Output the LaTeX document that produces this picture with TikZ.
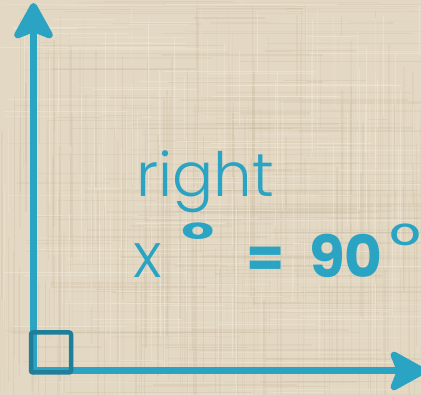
\documentclass[tikz,border=0pt]{standalone}
\usepackage{fontspec}
\setmainfont{Poppins}
\newfontfamily\lightfont{Poppins Light}
\newfontfamily\boldfont{Poppins Bold}
\usetikzlibrary{arrows.meta}
\definecolor{bgbeige}{HTML}{E3D8C3}
\definecolor{threaddark}{HTML}{C9BBA2}
\definecolor{threadlight}{HTML}{F1EADB}
\definecolor{axisblue}{HTML}{2BA4C4}
\definecolor{squareblue}{HTML}{1F7F9A}
\tikzset{
  axisline/.style={draw=axisblue, line width=7pt, line cap=round,
    -{Stealth[length=42pt 0 0, width=46pt 0 0, inset=9pt, round]}},
  anglebox/.style={draw=squareblue, line width=4.5pt, rounded corners=2pt},
  labeltext/.style={text=axisblue, inner sep=0pt, anchor=base west},
}
\begin{document}
\begin{tikzpicture}[x=1pt,y=-1pt]
\useasboundingbox (0,0) rectangle (421,395);
\fill[bgbeige] (0,0) rectangle (421,395);
% linen texture
\pgfmathsetseed{7}
\foreach \i in {1,...,200}{
  \pgfmathsetmacro{\px}{rnd*421}
  \pgfmathsetmacro{\op}{0.1+rnd*0.22}
  \pgfmathsetmacro{\wd}{0.5+rnd*1.5}
  \pgfmathsetmacro{\ya}{rnd*300}
  \pgfmathsetmacro{\yb}{\ya+60+rnd*200}
  \draw[threaddark, opacity=\op, line width=\wd pt] (\px,\ya) -- (\px,\yb);
}
\foreach \i in {1,...,200}{
  \pgfmathsetmacro{\py}{rnd*395}
  \pgfmathsetmacro{\op}{0.1+rnd*0.22}
  \pgfmathsetmacro{\wd}{0.5+rnd*1.5}
  \pgfmathsetmacro{\xa}{rnd*320}
  \pgfmathsetmacro{\xb}{\xa+60+rnd*200}
  \draw[threaddark, opacity=\op, line width=\wd pt] (\xa,\py) -- (\xb,\py);
}
\foreach \i in {1,...,120}{
  \pgfmathsetmacro{\px}{rnd*421}
  \pgfmathsetmacro{\op}{0.2+rnd*0.3}
  \pgfmathsetmacro{\ya}{rnd*300}
  \pgfmathsetmacro{\yb}{\ya+40+rnd*150}
  \draw[threadlight, opacity=\op, line width=1pt] (\px,\ya) -- (\px,\yb);
  \pgfmathsetmacro{\py}{rnd*395}
  \pgfmathsetmacro{\xa}{rnd*320}
  \pgfmathsetmacro{\xb}{\xa+40+rnd*150}
  \draw[threadlight, opacity=\op, line width=1pt] (\xa,\py) -- (\xb,\py);
}
% axes
\coordinate (corner) at (33.5,371);
\coordinate (top) at (33.5,3);
\coordinate (rightend) at (426,371);
\draw[axisline] (corner) -- (top);
\draw[axisline] (corner) -- (rightend);
% right-angle marker
\node[anglebox, minimum size=40pt, inner sep=0pt] (box) at (51,352.5) {};
\draw[squareblue, line width=1.2pt] ([shift={(3.5pt,3.5pt)}]box.south west) rectangle ([shift={(-3.5pt,-3.5pt)}]box.north east);
% labels
\node[labeltext, font=\lightfont\fontsize{61}{61}\selectfont] (word) at (136,197) {right};
\node[labeltext, font=\lightfont\fontsize{62}{62}\selectfont] (xvar) at (133,278) {x};
\node[labeltext, font=\boldfont\fontsize{72}{72}\selectfont] (xdeg) at (181,256) {\scalebox{1}[0.64]{°}};
\node[labeltext, font=\boldfont\fontsize{55}{55}\selectfont] (eq) at (246,278) {=};
\node[labeltext, font=\boldfont\fontsize{58}{58}\selectfont] (val) at (309,278) {90};
\node[labeltext, font=\fontsize{78}{78}\selectfont] (valdeg) at (389,268) {\scalebox{1}[0.8]{°}};
\end{tikzpicture}
\end{document}
